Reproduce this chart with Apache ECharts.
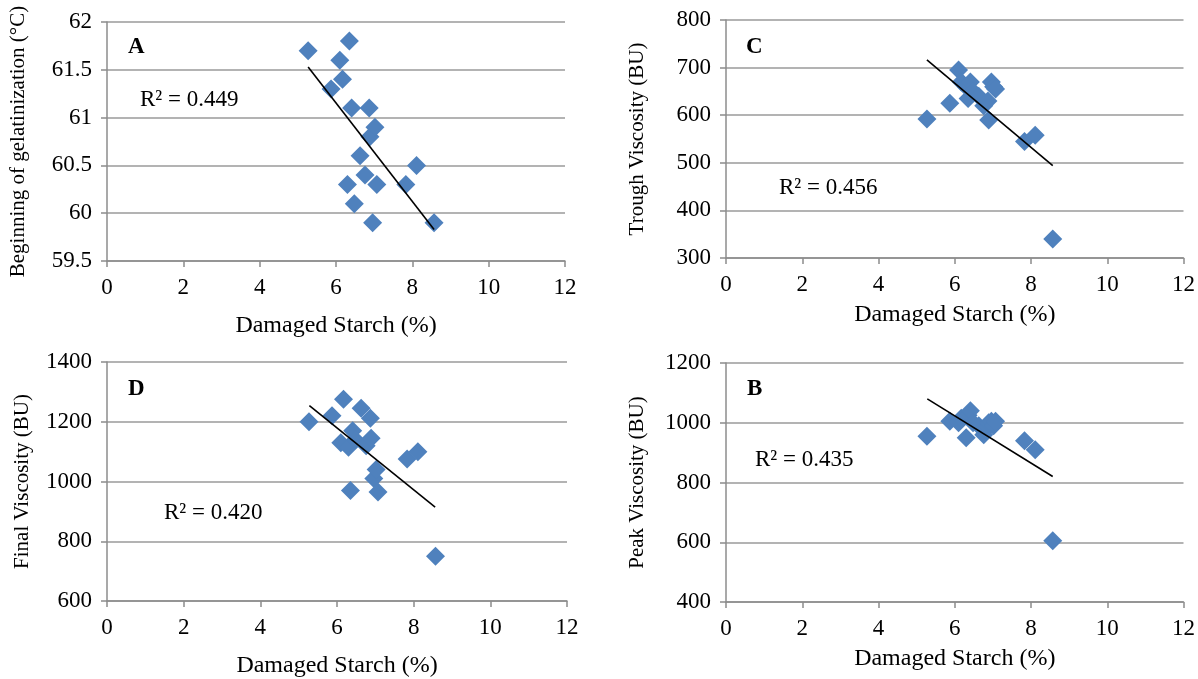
<!DOCTYPE html>
<html>
<head>
<meta charset="utf-8">
<script src="https://cdn.jsdelivr.net/npm/echarts@6/dist/echarts.min.js"></script>
<style>
  html, body { margin: 0; padding: 0; background: #fff; }
  #chart { width: 1198px; height: 679px; }
</style>
</head>
<body>
<div id="chart"></div>
<script>
// damaged starch (%) of each sample, same samples in every panel
var starch    = [5.27, 5.87, 6.10, 6.17, 6.30, 6.35, 6.41, 6.48, 6.63, 6.76, 6.87, 6.89, 6.96, 7.02, 7.07, 7.83, 8.11, 8.57];
// A - beginning of gelatinization (°C)
var gelStart  = [61.7, 61.3, 61.6, 61.4, 60.3, 61.8, 61.1, 60.1, 60.6, 60.4, 61.1, 60.8, 59.9, 60.9, 60.3, 60.3, 60.5, 59.9];
// C - trough viscosity (BU)
var trough    = [592, 625, 695, 670, 660, 635, 670, 650, 640, 620, 630, 590, 670, 660, 655, 545, 558, 340];
// D - final viscosity (BU)
var finalVisc = [1200, 1220, 1130, 1275, 1115, 970, 1170, 1140, 1245, 1120, 1212, 1145, 1010, 1040, 965, 1075, 1100, 750];
// B - peak viscosity (BU)
var peakVisc  = [955, 1005, 1000, 1015, 950, 1025, 1040, 1000, 990, 960, 985, 1000, 1005, 990, 1005, 940, 910, 605];

// linear trend lines, end points [x, y]
var trendA = [[5.27, 61.53], [8.57, 59.83]];
var trendC = [[5.27, 716], [8.57, 494]];
var trendD = [[5.28, 1254], [8.56, 914]];
var trendB = [[5.28, 1080], [8.57, 820]];

var r2Labels = ['R\u00b2 = 0.449', 'R\u00b2 = 0.456', 'R\u00b2 = 0.420', 'R\u00b2 = 0.435'];

var chart = echarts.init(document.getElementById('chart'));
var FONT = 'Liberation Serif';
var BLUE = '#4f81bd';

function pairs(xs, ys) {
  return xs.map(function (x, i) { return [x, ys[i]]; });
}

var panels = [
  { grid: { left: 107, top: 22, width: 458, height: 239 }, name: 'Beginning of gelatinization (\u00b0C)',
    min: 59.5, max: 62, step: 0.5, ys: gelStart, trend: trendA, xGap: 53, yGap: 78 },
  { grid: { left: 726, top: 20, width: 460, height: 238 }, name: 'Trough Viscosity (BU)',
    min: 300, max: 800, step: 100, ys: trough, trend: trendC, xGap: 45, yGap: 78 },
  { grid: { left: 107, top: 362, width: 460, height: 240 }, name: 'Final Viscosity (BU)',
    min: 600, max: 1400, step: 200, ys: finalVisc, trend: trendD, xGap: 53, yGap: 74 },
  { grid: { left: 726, top: 363, width: 460, height: 239 }, name: 'Peak Viscosity (BU)',
    min: 400, max: 1200, step: 200, ys: peakVisc, trend: trendB, xGap: 45, yGap: 78 }
];

var grids = [], xAxes = [], yAxes = [], series = [];
panels.forEach(function (p, i) {
  grids.push(p.grid);
  xAxes.push({
    gridIndex: i, type: 'value', min: 0, max: 12, interval: 2,
    name: 'Damaged Starch (%)', nameLocation: 'middle', nameGap: p.xGap,
    nameTextStyle: { fontFamily: FONT, fontSize: 24, color: '#000' },
    axisLine: { onZero: false, lineStyle: { color: '#8c8c8c', width: 1.5 } },
    axisTick: { show: true, inside: false, length: 6, lineStyle: { color: '#8c8c8c', width: 1.5 } },
    axisLabel: { fontFamily: FONT, fontSize: 23, color: '#000', margin: 15 },
    splitLine: { show: false }
  });
  yAxes.push({
    gridIndex: i, type: 'value', min: p.min, max: p.max, interval: p.step,
    name: p.name, nameLocation: 'middle', nameGap: p.yGap,
    nameTextStyle: { fontFamily: FONT, fontSize: 21, color: '#000' },
    axisLine: { show: true, onZero: false, lineStyle: { color: '#8c8c8c', width: 1.5 } },
    axisTick: { show: true, inside: false, length: 6, lineStyle: { color: '#8c8c8c', width: 1.5 } },
    axisLabel: { fontFamily: FONT, fontSize: 23, color: '#000', margin: 15,
      formatter: function (v) { return String(v); } },
    splitLine: { show: true, lineStyle: { color: '#9a9a9a', width: 1.5 } }
  });
  series.push({
    type: 'scatter', xAxisIndex: i, yAxisIndex: i,
    symbol: 'diamond', symbolSize: 19,
    itemStyle: { color: BLUE, opacity: 1 },
    data: pairs(starch, p.ys), z: 3
  });
  series.push({
    type: 'line', xAxisIndex: i, yAxisIndex: i,
    showSymbol: false, symbol: 'none', silent: true,
    lineStyle: { color: '#000', width: 1.6 },
    data: p.trend, z: 4
  });
});

function txt(x, y, s, bold) {
  return { type: 'text', left: x, top: y,
    style: { text: s, fontFamily: FONT, fontSize: 23, fontWeight: bold ? 'bold' : 'normal', fill: '#000' } };
}

chart.setOption({
  animation: false,
  backgroundColor: '#fff',
  grid: grids,
  xAxis: xAxes,
  yAxis: yAxes,
  series: series,
  graphic: [
    txt(128, 36, 'A', true),
    txt(746, 36, 'C', true),
    txt(128, 378, 'D', true),
    txt(747, 378, 'B', true),
    txt(140, 88, r2Labels[0]),
    txt(779, 176, r2Labels[1]),
    txt(164, 501, r2Labels[2]),
    txt(755, 448, r2Labels[3])
  ]
});
</script>
</body>
</html>
